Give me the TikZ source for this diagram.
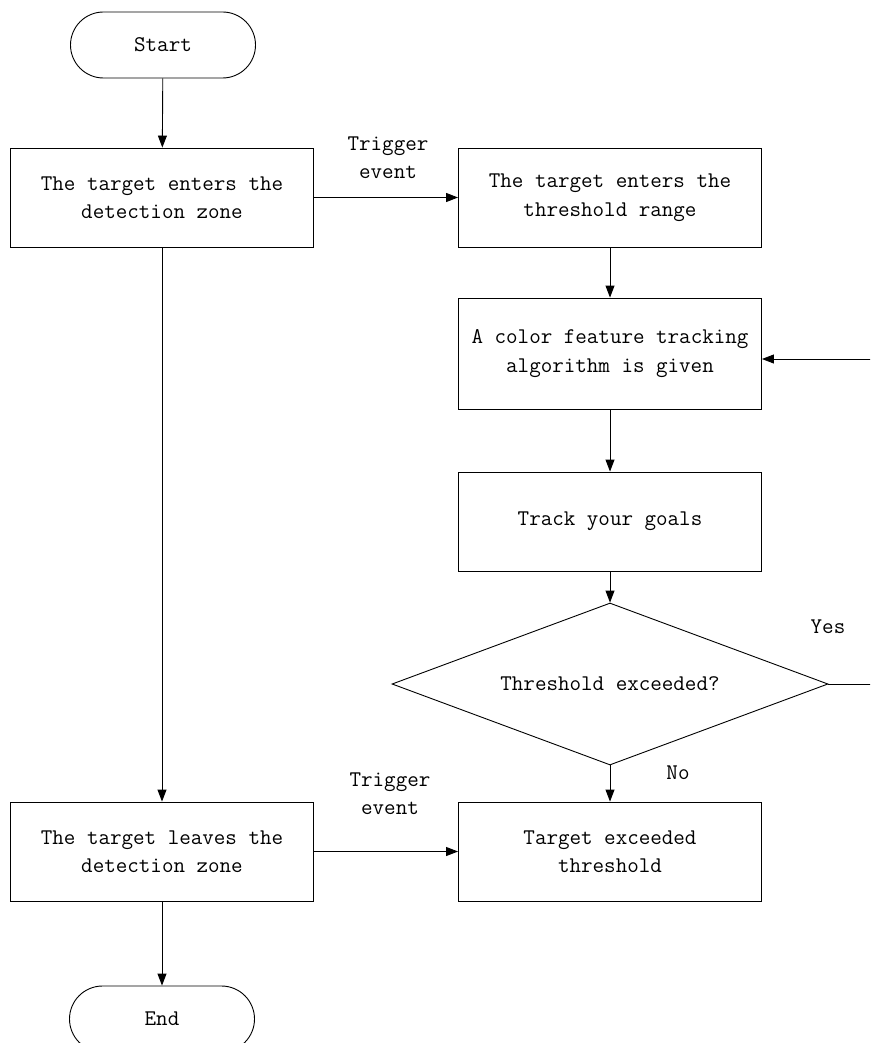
\documentclass[tikz,border=0pt]{standalone}
\usetikzlibrary{arrows.meta,shapes.geometric}
\tikzset{
  txt/.style={font=\ttfamily\fontsize{22.4}{28.5}\selectfont, align=center},
  box/.style={txt, draw, minimum width=303pt, minimum height=99pt},
  term/.style={txt, draw, rounded corners=33pt, minimum width=185pt, minimum height=66pt},
  decision/.style={txt, draw, diamond, aspect=2.7, minimum width=436pt, minimum height=162pt, inner sep=0pt},
  flow/.style={-{Triangle[length=12pt,width=9pt]}},
}
\begin{document}
\begin{tikzpicture}[x=1pt,y=-1pt,line width=0.9pt]
  \clip (0,0) rectangle (870,1043);
  % left column
  \node[term] (start) at (163,45) {Start};
  \node[box] (enter) at (162,197.5) {The target enters the\\detection zone};
  \node[box] (leave) at (162,851.5) {The target leaves the\\detection zone};
  \node[term] (end) at (162,1019) {End};
  % right column
  \node[box] (range) at (610,197.5) {The target enters the\\threshold range};
  \node[box, minimum height=111pt] (algo) at (610,353.5) {A color feature tracking\\algorithm is given};
  \node[box] (track) at (610,521.5) {Track your goals};
  \node[decision] (check) at (610,684) {Threshold exceeded?};
  \node[box] (exceed) at (610,851.5) {Target exceeded\\threshold};
  % labels
  \node[txt] (trig1) at (388,157.5) {Trigger\\event};
  \node[txt] (trig2) at (390,793.5) {Trigger\\event};
  \node[txt] (yes) at (828,627) {Yes};
  \node[txt] (no) at (678,773) {No};
  % loop back
  \coordinate (loopout) at (880,684);
  \coordinate (loopin) at (880,359);
  \draw[flow] (start) -- (enter);
  \draw[flow] (enter) -- (range);
  \draw[flow] (range) -- (algo);
  \draw[flow] (algo) -- (track);
  \draw[flow] (track) -- (check);
  \draw[flow] (check) -- (exceed);
  \draw[flow] (enter) -- (leave);
  \draw[flow] (leave) -- (exceed);
  \draw[flow] (leave) -- (end);
  \draw (check.east) -- (loopout) -- (loopin);
  \draw[flow] (loopin) -- (loopin -| algo.east);
\end{tikzpicture}
\end{document}
